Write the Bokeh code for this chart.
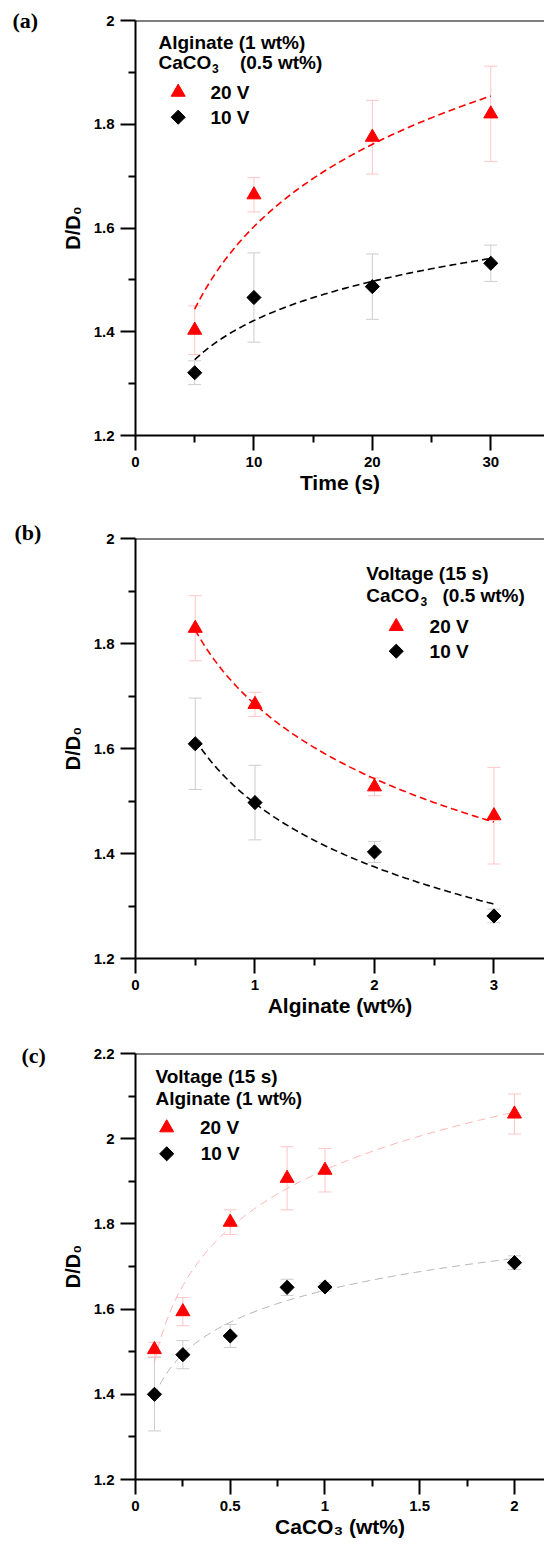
import numpy as np
from bokeh.plotting import figure
from bokeh.models import (Range1d, FixedTicker, CustomJSTickFormatter, Whisker,
                          TeeHead, ColumnDataSource, Label, Span, Title)
from bokeh.layouts import column
from bokeh.embed import file_html
from bokeh.resources import INLINE

# ---------------- data ----------------
# (a) Time series, Alginate 1 wt%, CaCO3 0.5 wt%
time_s = [5, 10, 20, 30]
a_20v = [1.403, 1.664, 1.775, 1.820]
a_20v_err = [0.047, 0.033, 0.071, 0.092]
a_10v = [1.321, 1.466, 1.487, 1.532]
a_10v_err = [0.023, 0.086, 0.063, 0.035]

# (b) Alginate series, 15 s, CaCO3 0.5 wt%
alginate_wt = [0.5, 1, 2, 3]
b_20v = [1.829, 1.684, 1.527, 1.472]
b_20v_err = [0.062, 0.023, 0.017, 0.092]
b_10v = [1.609, 1.497, 1.403, 1.281]
b_10v_err = [0.087, 0.071, 0.020, 0.013]

# (c) CaCO3 series, 15 s, Alginate 1 wt%
caco3_wt = [0.1, 0.25, 0.5, 0.8, 1, 2]
c_20v = [1.505, 1.594, 1.804, 1.907, 1.926, 2.058]
c_20v_err = [0.017, 0.033, 0.029, 0.074, 0.051, 0.047]
c_10v = [1.400, 1.493, 1.537, 1.651, 1.652, 1.709]
c_10v_err = [0.086, 0.033, 0.027, 0.019, 0.010, 0.016]

# ticks
y_ticks_ab = [1.2, 1.4, 1.6, 1.8, 2.0]
y_minor_ab = [1.3, 1.5, 1.7, 1.9]
y_ticks_c = [1.2, 1.4, 1.6, 1.8, 2.0, 2.2]
y_minor_c = [1.3, 1.5, 1.7, 1.9, 2.1]
x_ticks_a = [0, 10, 20, 30]
x_minor_a = [5, 15, 25]
x_ticks_b = [0, 1, 2, 3]
x_minor_b = [0.5, 1.5, 2.5]
x_ticks_c = [0, 0.5, 1, 1.5, 2]
x_minor_c = [0.25, 0.75, 1.25, 1.75]

SANS = "Liberation Sans"
SERIF = "Liberation Serif"
RED = "#ff0000"
RED_ERR = "#ffc6c6"
GRAY_ERR = "#cdcdcd"
PAGE_R = 544


def to_data(g, px, py):
    x = g["x0"] + (px - g["L"]) / (PAGE_R - g["L"]) * (g["x1"] - g["x0"])
    y = g["y0"] + (g["B"] - py) / (g["B"] - g["T"]) * (g["y1"] - g["y0"])
    return x, y


def add_text(p, g, text, px, py, size, align="left", baseline="middle"):
    x, y = to_data(g, px, py)
    p.add_layout(Label(x=x, y=y, text=text, text_font=SANS,
                       text_font_size=f"{size}px", text_font_style="bold",
                       text_align=align, text_baseline=baseline,
                       text_color="black"))


def log_fit(xs, ys):
    b, a = np.polyfit(np.log(xs), ys, 1)
    xx = np.linspace(min(xs), max(xs), 150)
    return xx, a + b * np.log(xx)


def make_panel(g, xs, s20, e20, s10, e10, xt, xm, yt, ym,
               fit_cols, fit_dash, fit_w, xlabel, tag, tag_standoff):
    p = figure(width=544, height=g["height"], output_backend="svg",
               toolbar_location=None,
               x_range=Range1d(g["x0"], g["x1"]),
               y_range=Range1d(g["y0"], g["y1"]))
    p.min_border_left = g["L"]
    p.min_border_right = 0
    p.min_border_top = g["T"] - g["top"]
    p.min_border_bottom = g["top"] + g["height"] - g["B"]
    p.outline_line_color = None
    p.xgrid.visible = False
    p.ygrid.visible = False
    p.background_fill_color = "white"
    p.border_fill_color = "white"

    p.xaxis.ticker = FixedTicker(ticks=xt, minor_ticks=xm)
    p.yaxis.ticker = FixedTicker(ticks=yt, minor_ticks=ym)
    fmt = "return tick.toString();"
    p.xaxis.formatter = CustomJSTickFormatter(code=fmt)
    p.yaxis.formatter = CustomJSTickFormatter(code=fmt)
    for ax in (p.xaxis[0], p.yaxis[0]):
        ax.axis_line_width = 2
        ax.axis_line_color = "black"
        ax.major_tick_line_width = 2
        ax.minor_tick_line_width = 2
        ax.major_tick_line_color = "black"
        ax.minor_tick_line_color = "black"
        ax.major_tick_out = 15
        ax.major_tick_in = 0
        ax.minor_tick_out = 7
        ax.minor_tick_in = 0
        ax.major_label_text_font = SANS
        ax.major_label_text_font_style = "bold"
        ax.major_label_text_font_size = "15px"
        ax.major_label_text_color = "black"
        ax.axis_label_text_font = SANS
        ax.axis_label_text_font_style = "bold"
        ax.axis_label_text_color = "black"
    p.xaxis.major_label_standoff = 6
    p.yaxis.major_label_standoff = 6
    p.xaxis.axis_label = xlabel
    p.xaxis.axis_label_text_font_size = "21px"
    p.xaxis.axis_label_standoff = 1
    p.yaxis.axis_label = "D/D\u2080"
    p.yaxis.axis_label_text_font_size = "20px"
    p.yaxis.axis_label_standoff = 7

    p.add_layout(Span(location=g["y1"], dimension="width",
                      line_color="black", line_width=2))

    p.add_layout(Title(text=tag, align="left", offset=12 - g["L"],
                       standoff=tag_standoff, vertical_align="bottom",
                       text_font=SERIF, text_font_size="22px",
                       text_font_style="bold", text_color="black"), "above")

    # error bars
    for ys, es, col in ((s10, e10, GRAY_ERR), (s20, e20, RED_ERR)):
        src = ColumnDataSource(dict(
            x=xs,
            upper=[v + e for v, e in zip(ys, es)],
            lower=[v - e for v, e in zip(ys, es)]))
        p.add_layout(Whisker(base="x", upper="upper", lower="lower", source=src,
                             line_color=col, line_width=1,
                             upper_head=TeeHead(size=13, line_color=col, line_width=1),
                             lower_head=TeeHead(size=13, line_color=col, line_width=1)))

    # fit curves
    fx, fy = log_fit(xs, s20)
    p.line(fx, fy, line_color=fit_cols[0], line_dash=fit_dash, line_width=fit_w)
    fx, fy = log_fit(xs, s10)
    p.line(fx, fy, line_color=fit_cols[1], line_dash=fit_dash, line_width=fit_w)

    # points
    p.scatter(xs, s20, marker="triangle", size=14, color=RED)
    p.scatter(xs, s10, marker="square", size=10, angle=np.pi / 4, color="black")
    return p


def legend_markers(p, g, mx, y20, y10):
    x, y = to_data(g, mx, y20)
    p.scatter([x], [y], marker="triangle", size=14, color=RED)
    x, y = to_data(g, mx, y10)
    p.scatter([x], [y], marker="square", size=10, angle=np.pi / 4, color="black")


# ---------------- panel (a) ----------------
ga = dict(top=0, height=508, L=135, T=20, B=435, x0=0, x1=(PAGE_R - 135) / 11.843,
          y0=1.2, y1=2.0)
pa = make_panel(ga, time_s, a_20v, a_20v_err, a_10v, a_10v_err,
                x_ticks_a, x_minor_a, y_ticks_ab, y_minor_ab,
                (RED, "black"), "7 4", 1.6, "Time (s)", "(a)", -25)
add_text(pa, ga, "Alginate (1 wt%)", 158, 41.7, 19)
add_text(pa, ga, "CaCO", 158, 61.7, 19)
add_text(pa, ga, "3", 211.5, 68.3, 12)
add_text(pa, ga, "(0.5 wt%)", 239.4, 61.7, 19)
legend_markers(pa, ga, 177.7, 91.7, 116.7)
add_text(pa, ga, "20 V", 209.9, 91.7, 19)
add_text(pa, ga, "10 V", 209.9, 116.7, 19)

# ---------------- panel (b) ----------------
gb = dict(top=508, height=532, L=133, T=538, B=958, x0=0, x1=(PAGE_R - 133) / 120.07,
          y0=1.2, y1=2.0)
pb = make_panel(gb, alginate_wt, b_20v, b_20v_err, b_10v, b_10v_err,
                x_ticks_b, x_minor_b, y_ticks_ab, y_minor_ab,
                (RED, "black"), "7 4", 1.6, "Alginate (wt%)", "(b)", -12)
add_text(pb, gb, "Voltage (15 s)", 365, 572.7, 19)
add_text(pb, gb, "CaCO", 365, 595, 19)
add_text(pb, gb, "3", 419.5, 601, 12)
add_text(pb, gb, "(0.5 wt%)", 441.5, 595, 19)
legend_markers(pb, gb, 395, 626, 650.7)
add_text(pb, gb, "20 V", 428.5, 626, 19)
add_text(pb, gb, "10 V", 428.5, 650.7, 19)

# ---------------- panel (c) ----------------
gc = dict(top=1040, height=504, L=126, T=1053, B=1479, x0=0, x1=(PAGE_R - 126) / 193.65,
          y0=1.2, y1=2.2)
pc = make_panel(gc, caco3_wt, c_20v, c_20v_err, c_10v, c_10v_err,
                x_ticks_c, x_minor_c, y_ticks_c, y_minor_c,
                ("#ffb4b4", "#b4b4b4"), "8 5", 1.0, "CaCO\u2083 (wt%)", "(c)", -29)
add_text(pc, gc, "Voltage (15 s)", 146.4, 1076, 19)
add_text(pc, gc, "Alginate (1 wt%)", 146.4, 1097.7, 19)
legend_markers(pc, gc, 157.9, 1127.3, 1153.3)
add_text(pc, gc, "20 V", 191.9, 1127.3, 19)
add_text(pc, gc, "10 V", 192.6, 1153.3, 19)

layout = column(pa, pb, pc, spacing=0)
open("out.html", "w").write(file_html(layout, INLINE))
